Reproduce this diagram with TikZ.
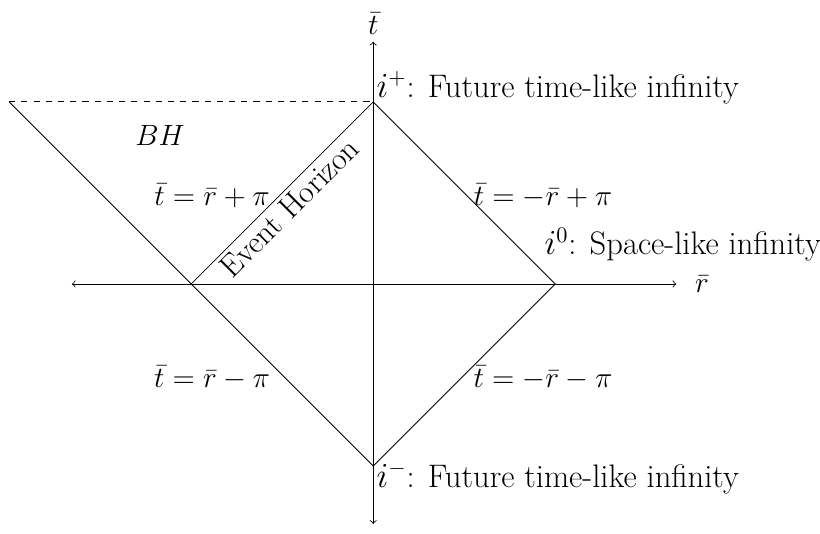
\documentclass[tikz,border=0pt]{standalone}
\usepackage{amsmath}
\begin{document}
\begin{tikzpicture}[>=to, every node/.style={font=\fontsize{15.2}{18}\selectfont},
  txt/.style={font=\fontsize{16}{19}\selectfont}]
  \useasboundingbox (-6.44, -4.30) rectangle (7.71, 4.90);
  % axes
  \draw[<->] (-5.20, 0) -- (5.23, 0) node[right, xshift=2mm] (rlab) {$\bar{r}$};
  \draw[<->] (0, -4.14) -- (0, 4.18) node[above] (tlab) {$\bar{t}$};
  % corners
  \coordinate (top) at (0, pi);
  \coordinate (bot) at (0, -pi);
  \coordinate (lft) at (-pi, 0);
  \coordinate (rgt) at (pi, 0);
  \coordinate (far) at (-2*pi, pi);
  % diamond
  \draw (lft) -- node[txt, pos=0.48, sloped, below=2pt, inner sep=0pt,
    font=\fontsize{15.5}{18}\selectfont] {Event Horizon} (top);
  \draw (top) -- (rgt) -- (bot) -- (lft);
  \draw (lft) -- (far);
  \draw[dashed] (far) -- (top);
  % labels
  \node[txt, anchor=base west, inner sep=0pt] (ip) at (0.05, 3.22) {$i^+$: Future time-like infinity};
  \node[txt, anchor=base west, inner sep=0pt] (io) at (2.95, 0.50) {$i^0$: Space-like infinity};
  \node[txt, anchor=base west, inner sep=0pt] (im) at (0.05, -3.51) {$i^-$: Future time-like infinity};
  \node (bh) at (-3.68, 2.57) {$BH$};
  \node (ul) at (-2.78, 1.52) {$\bar{t}=\bar{r}+\pi$};
  \node (ur) at (2.93, 1.52) {$\bar{t}=-\bar{r}+\pi$};
  \node (ll) at (-2.78, -1.62) {$\bar{t}=\bar{r}-\pi$};
  \node (lr) at (2.93, -1.62) {$\bar{t}=-\bar{r}-\pi$};
\end{tikzpicture}
\end{document}
